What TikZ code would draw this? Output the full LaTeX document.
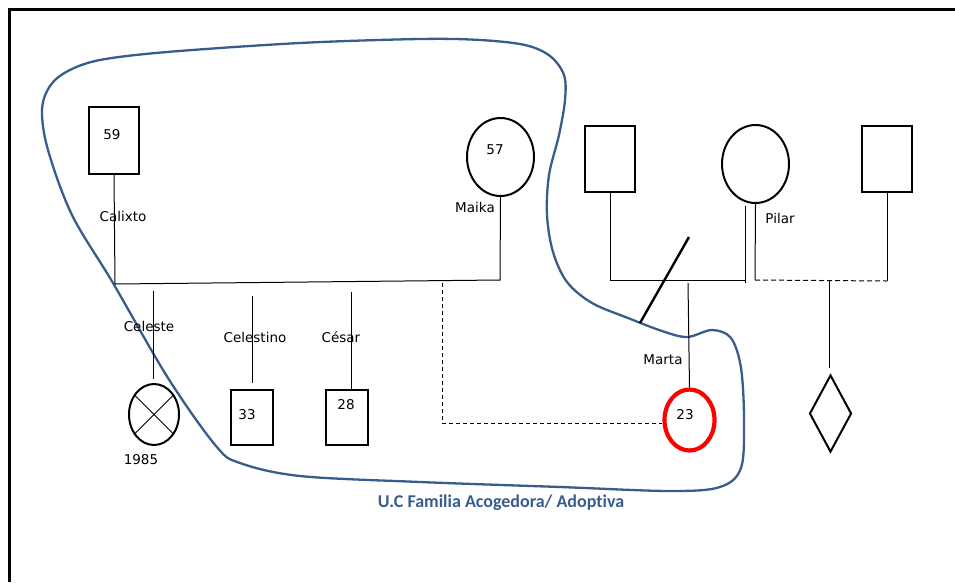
\documentclass[tikz,border=0pt]{standalone}
\usepackage{fontspec}
\setmainfont{DejaVu Sans}
\newfontfamily\titlefont[Ligatures=NoCommon]{Carlito}
\usetikzlibrary{shapes.geometric}
\definecolor{ucblue}{HTML}{385D8A}
\definecolor{martared}{HTML}{FF0000}
\tikzset{
  male/.style={draw, line width=2pt, rectangle, minimum width=#1, inner sep=0pt},
  female/.style={draw, line width=2pt, ellipse, inner sep=0pt},
  lnk/.style={line width=1pt},
  dlnk/.style={line width=1pt, dash pattern=on 5pt off 3pt},
  lbl/.style={font=\fontsize{13.5}{15}\selectfont, inner sep=0pt},
}
\begin{document}
\begin{tikzpicture}[x=1pt,y=-1pt]
\useasboundingbox (0,0) rectangle (955,582);
% frame
\draw[line width=2.6pt] (9.5,582) -- (9.5,9.5) -- (955,9.5);

% blue boundary
\draw[ucblue, line width=2.3pt] plot[smooth cycle, tension=0.55] coordinates {
 (100,60) (167,52) (300,43) (420,39) (480,40) (525,45) (550,56) (564,75) (565,100)
 (559,135) (549,175) (547,215) (553,252) (567,282) (592,303) (628,318) (662,331)
 (687,337) (712,330) (731,338) (741,368) (744,420) (741,468) (720,487) (670,491)
 (560,487) (420,482) (300,476) (240,463) (216,446) (168,378) (113,283)
 (72,215) (48,150) (42,110) (50,86) (68,71)};

% first family
\node[male=50pt, minimum height=67pt] (calixto) at (114,140.5) {};
\node[female, minimum width=67pt, minimum height=78pt] (maika) at (500.5,157) {};
\node[female, minimum width=50pt, minimum height=61pt] (celeste) at (154,414.5) {};
\node[male=42pt, minimum height=55pt] (celestino) at (252,417.5) {};
\node[male=42pt, minimum height=55pt] (cesar) at (347,417.5) {};
\draw[line width=1pt] (celeste.45) -- (celeste.225) (celeste.135) -- (celeste.315);

\coordinate (cA) at (115,284);
\coordinate (mA) at (500,280);
\draw[lnk] (calixto.south) -- (cA) -- (mA) -- (maika.south);
\coordinate (ceTop) at (153,291);
\coordinate (ceBot) at (153,379);
\draw[lnk] (ceTop) -- (ceBot);
\coordinate (ctTop) at (252,296);
\coordinate (ctBot) at (252,383);
\draw[lnk] (ctTop) -- (ctBot);
\coordinate (csTop) at (351,292);
\draw[lnk] (csTop) -- (cesar.north -| csTop);

% second family
\node[male=50pt, minimum height=66pt] (p1) at (610,159) {};
\node[female, minimum width=67pt, minimum height=78pt] (pilar) at (755.5,164) {};
\node[male=50pt, minimum height=66pt] (p3) at (887,159) {};
\node[draw, line width=2pt, diamond, minimum width=42pt, minimum height=77pt, inner sep=0pt] (dia) at (830.5,413.5) {};
\node[draw=martared, line width=4.2pt, ellipse, minimum width=50pt, minimum height=61pt, inner sep=0pt] (marta) at (689.5,420) {};

\coordinate (p1A) at (610,280);
\coordinate (pL) at (745,280);
\draw[lnk] (p1.south) -- (p1A) -- (pL);
\coordinate (dTop) at (745,206);
\coordinate (dBot) at (745,283);
\draw[lnk] (dTop) -- (dBot);
\coordinate (pB) at (755,280);
\draw[lnk] (pilar.south) -- (pB);
\coordinate (p3A) at (887,281);
\draw[lnk] (p3.south) -- (p3A);
\draw[dlnk] (pB) -- (p3A);
\coordinate (diaTop) at (829,281);
\coordinate (diaBot) at (829,368);
\draw[lnk] (diaTop) -- (diaBot);
\coordinate (mtTop) at (688,283);
\draw[lnk] (mtTop) -- (marta.north);
\coordinate (slA) at (689,237);
\coordinate (slB) at (640,323);
\draw[line width=2.4pt] (slA) -- (slB);

% dashed adoption link
\coordinate (adA) at (442,283);
\coordinate (adB) at (442,423);
\draw[dlnk, dash pattern=on 4pt off 3pt] (adA) -- (adB) -- (adB -| marta.west);

% labels
\node[lbl] (t59) at (112,135) {59};
\node[lbl] (t57) at (495,150) {57};
\node[lbl] (t33) at (247,415) {33};
\node[lbl] (t28) at (346,405) {28};
\node[lbl] (t23) at (685,415) {23};
\node[lbl] (lcal) at (123,216) {Calixto};
\node[lbl] (lmai) at (475,207) {Maika};
\node[lbl] (lcel) at (149,326) {Celeste};
\node[lbl] (lcet) at (255,337) {Celestino};
\node[lbl] (lces) at (341,337) {César};
\node[lbl] (l85) at (141,460) {1985};
\node[lbl] (lmar) at (663,360) {Marta};
\node[lbl] (lpil) at (780,218) {Pilar};
\node[text=ucblue, inner sep=0pt, font=\titlefont\bfseries\fontsize{18}{20}\selectfont] (title) at (501,503) {U.C Familia Acogedora/ Adoptiva};
\end{tikzpicture}
\end{document}
